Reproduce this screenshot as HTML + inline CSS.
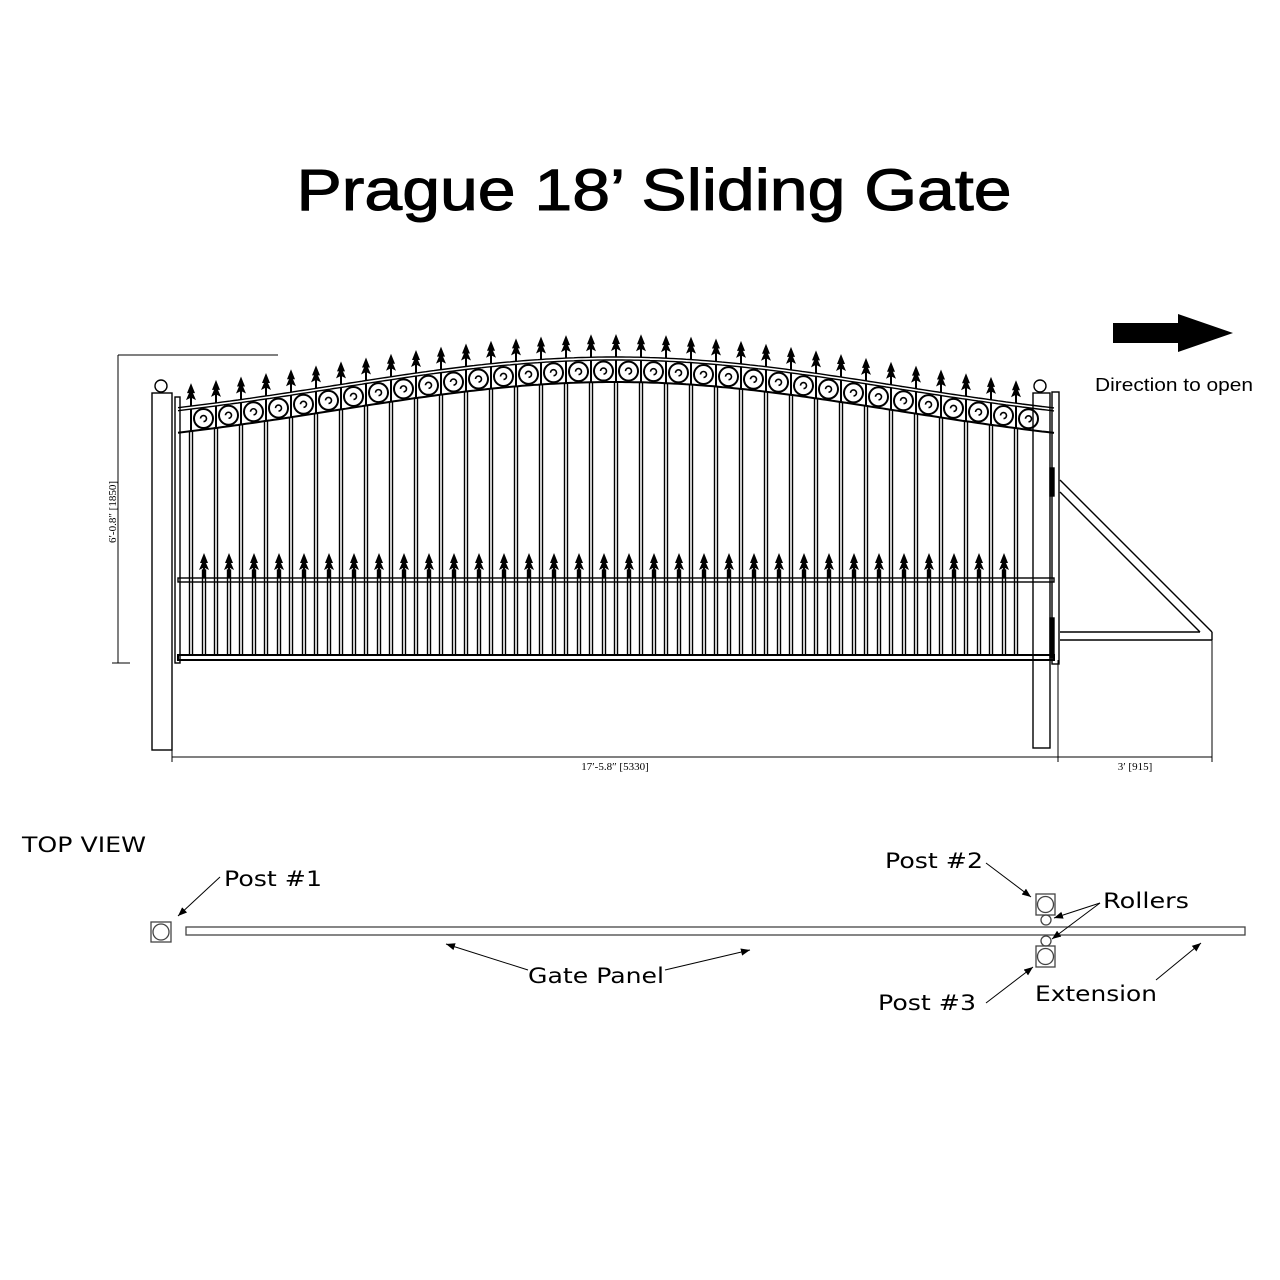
<!DOCTYPE html>
<html><head><meta charset="utf-8"><style>
html,body{margin:0;padding:0;background:#fff}
svg{display:block}
text{font-family:"Liberation Sans",sans-serif;fill:#000}
.s{font-family:"Liberation Serif",serif}
.d{font-family:"DejaVu Sans",sans-serif}
</style></head><body>
<svg id="g" width="1280" height="1280" viewBox="0 0 1280 1280" xmlns="http://www.w3.org/2000/svg">
<defs>
<marker id="ah" viewBox="0 0 10 10" refX="10" refY="5" markerWidth="9" markerHeight="9" orient="auto-start-reverse"><path d="M0,1 L10,5 L0,9 Z" fill="#000"/></marker>
</defs>
<text x="654" y="210" text-anchor="middle" font-size="58" textLength="715" lengthAdjust="spacingAndGlyphs" stroke="#000" stroke-width="1">Prague 18’ Sliding Gate</text>

<path d="M1113,323 H1178 V314 L1233,333 L1178,352 V343 H1113 Z" fill="#000"/>
<text x="1095" y="391" font-size="18" textLength="158" lengthAdjust="spacingAndGlyphs">Direction to open</text>

<g id="gate" fill="none" stroke="#000" stroke-width="1.4"></g>

<g stroke="#000" stroke-width="1" fill="none">
<line x1="118" y1="355" x2="278" y2="355"/>
<line x1="118" y1="355" x2="118" y2="663"/>
<line x1="112" y1="663" x2="130" y2="663"/>
<line x1="172" y1="757" x2="1212" y2="757"/>
<line x1="172" y1="748" x2="172" y2="762"/>
<line x1="1058" y1="660" x2="1058" y2="762"/>
<line x1="1212" y1="640" x2="1212" y2="762"/>
</g>
<text class="s" x="0" y="0" font-size="11" transform="translate(116,512) rotate(-90)" text-anchor="middle">6′-0.8″  [1850]</text>
<text class="s" x="615" y="770" font-size="11" text-anchor="middle">17′-5.8″  [5330]</text>
<text class="s" x="1135" y="770" font-size="11" text-anchor="middle">3′  [915]</text>

<text class="d" x="22" y="852" font-size="21" textLength="124" lengthAdjust="spacingAndGlyphs">TOP  VIEW</text>
<g stroke="#444" stroke-width="1.3" fill="none">
<rect x="151" y="922" width="20" height="20"/><circle cx="161" cy="932" r="8"/>
<rect x="186" y="927" width="1059" height="8"/>
<rect x="1036" y="894" width="19" height="21"/><circle cx="1045.5" cy="904.5" r="8"/>
<circle cx="1046" cy="920" r="5"/><circle cx="1046" cy="941" r="5"/>
<rect x="1036" y="946" width="19" height="21"/><circle cx="1045.5" cy="956.5" r="8"/>
</g>
<g stroke="#000" stroke-width="1" marker-end="url(#ah)">
<line x1="220" y1="877" x2="178" y2="916"/>
<line x1="986" y1="863" x2="1031" y2="897"/>
<line x1="1100" y1="903" x2="1054" y2="918"/>
<line x1="1100" y1="903" x2="1052" y2="939"/>
<line x1="528" y1="970" x2="446" y2="944"/>
<line x1="665" y1="970" x2="750" y2="950"/>
<line x1="986" y1="1003" x2="1033" y2="967"/>
<line x1="1156" y1="980" x2="1201" y2="943"/>
</g>
<text class="d" x="224" y="886" font-size="21" textLength="98" lengthAdjust="spacingAndGlyphs">Post #1</text>
<text class="d" x="885" y="868" font-size="21" textLength="98" lengthAdjust="spacingAndGlyphs">Post #2</text>
<text class="d" x="1103" y="908" font-size="21" textLength="86" lengthAdjust="spacingAndGlyphs">Rollers</text>
<text class="d" x="528" y="983" font-size="21" textLength="136" lengthAdjust="spacingAndGlyphs">Gate Panel</text>
<text class="d" x="878" y="1010" font-size="21" textLength="98" lengthAdjust="spacingAndGlyphs">Post #3</text>
<text class="d" x="1035" y="1001" font-size="21" textLength="122" lengthAdjust="spacingAndGlyphs">Extension</text>
</svg>
<script>
var g=document.getElementById('gate'),h='';
function Y(x){var t=Math.min(1,Math.abs((x-615)/440));return 357+51*(0.5*(1-Math.cos(Math.PI*t))/2+0.5*t*t);}
function sp(x,t,len){return '<path d="M'+x+','+t+' L'+(x+4)+','+(t+10)+' L'+(x+2)+','+(t+10)+' L'+(x+5)+','+(t+17)+' L'+(x+1)+','+(t+15)+' L'+(x+1)+','+(t+len)+' L'+(x-1)+','+(t+len)+' L'+(x-1)+','+(t+15)+' L'+(x-5)+','+(t+17)+' L'+(x-2)+','+(t+10)+' L'+(x-4)+','+(t+10)+'Z" fill="#000" stroke="none"/>';}
h+='<rect x="152" y="393" width="20" height="357"/><circle cx="161" cy="386" r="6"/>';
h+='<rect x="1033" y="393" width="17" height="355"/><circle cx="1040" cy="386" r="6"/>';
h+='<rect x="175" y="397" width="5" height="266"/><rect x="1052" y="392" width="7" height="272"/>';
var p1='',p2='',p3='';
for(var x=178;x<=1054;x+=4){var y=Y(x);p1+=(p1?'L':'M')+x+','+y.toFixed(1);p2+=(p2?'L':'M')+x+','+(y+3).toFixed(1);p3+=(p3?'L':'M')+x+','+(y+25).toFixed(1);}
h+='<path d="'+p1+'"/><path d="'+p2+'"/><path d="'+p3+'" stroke-width="2"/>';
h+='<rect x="178" y="578" width="876" height="4"/><rect x="178" y="655" width="876" height="5" stroke-width="2"/>';
h+='<line x1="1060" y1="480" x2="1212" y2="632"/><line x1="1060" y1="492" x2="1200" y2="632"/><line x1="1060" y1="632" x2="1200" y2="632"/><line x1="1060" y1="640" x2="1212" y2="640"/><line x1="1212" y1="632" x2="1212" y2="640"/>';
h+='<rect x="1050" y="468" width="4" height="28" fill="#000"/><rect x="1050" y="618" width="4" height="40" fill="#000"/>';
for(var k=0;k<34;k++){var x=191+25*k,y=Y(x);
h+='<rect x="'+(x-1.5)+'" y="'+(y+25)+'" width="3" height="'+(655-y-25)+'"/>';
h+=sp(x,y-23,23);
var cx=x+12.5,cy=Y(cx)+14;if(cx<1052){h+='<circle cx="'+cx+'" cy="'+cy+'" r="9.5" stroke-width="2"/><path d="M'+(cx-3)+','+cy+' a3,3 0 1,1 3,3" stroke-width="1.6"/>';}
h+='<line x1="'+x+'" y1="'+(y+3)+'" x2="'+x+'" y2="'+(y+25)+'" stroke-width="2"/>';
}
for(var k=0;k<33;k++){var x=204+25*k;
h+='<rect x="'+(x-1.5)+'" y="570" width="3" height="85"/>';
h+=sp(x,553,25);
}
g.innerHTML=h;
</script>
</body></html>
